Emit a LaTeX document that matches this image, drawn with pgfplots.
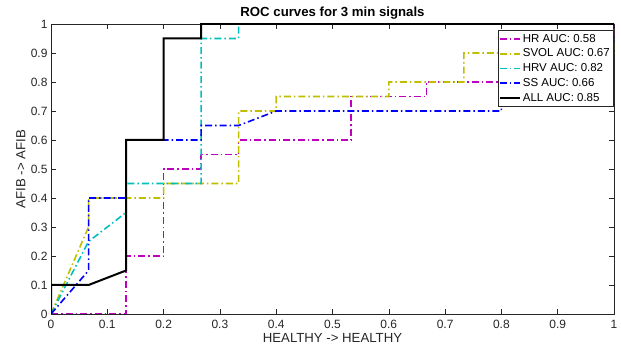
\documentclass[border=0pt]{standalone}
\usepackage{pgfplots}
\pgfplotsset{compat=1.18}
\usepackage{fontspec}
\setmainfont{Liberation Sans}
\definecolor{cHR}{rgb}{0.75,0,0.75}
\definecolor{cSV}{rgb}{0.75,0.75,0}
\definecolor{cHRV}{rgb}{0,0.75,0.75}
\definecolor{cSS}{rgb}{0,0,1}
\definecolor{axc}{rgb}{0.15,0.15,0.15}
\tikzset{mdashdot/.style={dash pattern=on 7bp off 3bp on 1.5bp off 3bp}}
\begin{document}
\begin{tikzpicture}
\begin{axis}[
  scale only axis, width=563bp, height=290bp,
  xmin=0, xmax=1, ymin=0, ymax=1,
  xtick={0,0.1,...,1.01}, ytick={0,0.1,...,1.01},
  xticklabels={0,0.1,0.2,0.3,0.4,0.5,0.6,0.7,0.8,0.9,1},
  yticklabels={0,0.1,0.2,0.3,0.4,0.5,0.6,0.7,0.8,0.9,1},
  tick align=inside, major tick length=5bp,
  axis line style={axc, line width=0.6bp},
  every tick/.style={axc, line width=0.6bp},
  tick label style={font=\fontsize{12bp}{14bp}\selectfont, text=axc},
  xticklabel style={yshift=-2.5bp},
  title={\bfseries ROC curves for 3 min signals},
  title style={font=\fontsize{13.2bp}{15bp}\selectfont, yshift=-4.5bp},
  xlabel={HEALTHY -> HEALTHY}, ylabel={AFIB -> AFIB},
  label style={font=\fontsize{13.2bp}{15bp}\selectfont, text=axc},
  xlabel style={yshift=1.5bp}, ylabel style={yshift=-1.5bp},
  legend cell align=left,
  legend style={at={(1,1)}, anchor=north east, xshift=-1bp, yshift=-6bp,
    font=\fontsize{11.5bp}{13.5bp}\selectfont, draw=axc, line width=0.5bp,
    inner xsep=1bp, inner ysep=2bp, row sep=1.2bp},
  legend image code/.code={\draw[#1] (0bp,0bp) -- (20bp,0bp);},
]
\addplot[cHR, line width=1.6bp, mdashdot] coordinates {
 (0,0) (0.1333,0) (0.1333,0.2) (0.2,0.2) (0.2,0.5) (0.2667,0.5) (0.2667,0.55)
 (0.3333,0.55) (0.3333,0.6) (0.5333,0.6) (0.5333,0.75) (0.6667,0.75) (0.6667,0.8)
 (0.8667,0.8) (0.8667,0.95) (1,0.95) (1,1)};
\addlegendentry{HR AUC: 0.58}
\addplot[cSV, line width=1.6bp, mdashdot] coordinates {
 (0,0) (0.0667,0.3) (0.0667,0.4) (0.2,0.4) (0.2,0.45) (0.3333,0.45) (0.3333,0.7)
 (0.4,0.7) (0.4,0.75) (0.6,0.75) (0.6,0.8) (0.7333,0.8) (0.7333,0.9) (1,0.9) (1,1)};
\addlegendentry{SVOL AUC: 0.67}
\addplot[cHRV, line width=1.6bp, mdashdot] coordinates {
 (0,0) (0.0667,0.25) (0.1333,0.35) (0.1333,0.45) (0.2667,0.45) (0.2667,0.95)
 (0.3333,0.95) (0.3333,1) (1,1)};
\addlegendentry{HRV AUC: 0.82}
\addplot[cSS, line width=1.6bp, mdashdot] coordinates {
 (0,0) (0.0667,0.15) (0.0667,0.4) (0.1333,0.4) (0.1333,0.6) (0.2667,0.6) (0.2667,0.65)
 (0.3333,0.65) (0.4,0.7) (0.8,0.7) (0.8,0.95) (1,0.95) (1,1)};
\addlegendentry{SS AUC: 0.66}
\addplot[black, line width=2bp] coordinates {
 (0,0) (0,0.1) (0.0667,0.1) (0.1333,0.15) (0.1333,0.6) (0.2,0.6) (0.2,0.95)
 (0.2667,0.95) (0.2667,1) (1,1)};
\addlegendentry{ALL AUC: 0.85}
\end{axis}
\path[use as bounding box] (-51bp,-40bp) rectangle (570bp,314bp);
\end{tikzpicture}
\end{document}
